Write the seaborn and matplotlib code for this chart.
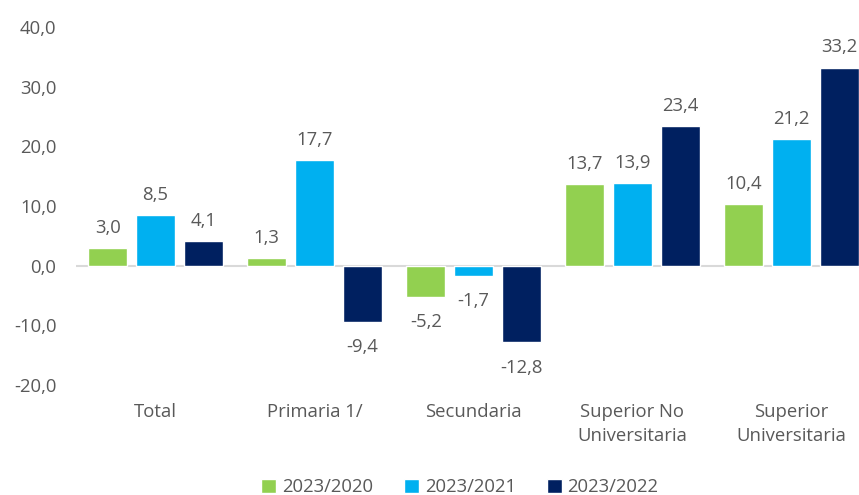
import matplotlib
matplotlib.use("Agg")
import matplotlib.pyplot as plt
import seaborn as sns
import pandas as pd

categories = ["Total", "Primaria 1/", "Secundaria", "Superior No\nUniversitaria", "Superior\nUniversitaria"]
series_names = ["2023/2020", "2023/2021", "2023/2022"]
v2020 = [3.0, 1.3, -5.2, 13.7, 10.4]
v2021 = [8.5, 17.7, -1.7, 13.9, 21.2]
v2022 = [4.1, -9.4, -12.8, 23.4, 33.2]
colors = ["#92D050", "#00B0F0", "#002060"]
yticks = [-20, -10, 0, 10, 20, 30, 40]

rows = []
for s, vals in zip(series_names, [v2020, v2021, v2022]):
    for c, v in zip(categories, vals):
        rows.append({"cat": c, "serie": s, "val": v})
df = pd.DataFrame(rows)

sns.set_style("white")
plt.rcParams["font.family"] = ["Open Sans", "DejaVu Sans"]
text_color = "#595959"
fs = 13.3

fig = plt.figure(figsize=(8.59, 4.95), dpi=100)
W, H = 859, 495
ax = fig.add_axes([76 / W, 1 - 385 / H, 1 - 76 / W, (385 - 27) / H])

sns.barplot(data=df, x="cat", y="val", hue="serie", order=categories,
            hue_order=series_names, palette=colors, width=0.9, gap=0.18,
            saturation=1, ax=ax, legend=True)

ax.set_ylim(-20, 40)
ax.set_xlim(-0.5, (W - 76) / 159 - 0.5)
ax.set_yticks(yticks)
ax.set_yticklabels([f"{t:.1f}".replace(".", ",") for t in yticks], fontsize=fs, color=text_color)
ax.tick_params(axis="y", length=0, pad=14)
ax.tick_params(axis="x", length=0, pad=13)
ax.set_xticks(range(len(categories)))
ax.set_xticklabels(categories, fontsize=fs, color=text_color, linespacing=1.4)
ax.set_xlabel("")
ax.set_ylabel("")
for sp in ax.spines.values():
    sp.set_visible(False)
ax.axhline(0, color="#D9D9D9", lw=1.5, zorder=0.5)

for cont in ax.containers:
    for bar in cont:
        v = bar.get_height()
        x = bar.get_x() + bar.get_width() / 2
        if v >= 0:
            ax.annotate(f"{v:.1f}".replace(".", ","), (x, v), xytext=(0, 8),
                        textcoords="offset points", ha="center", va="bottom",
                        fontsize=fs, color=text_color)
        else:
            ax.annotate(f"{v:.1f}".replace(".", ","), (x, v), xytext=(0, -12),
                        textcoords="offset points", ha="center", va="top",
                        fontsize=fs, color=text_color)

ax.legend(loc="center", bbox_to_anchor=(460 / W, 1 - 487 / H),
          bbox_transform=fig.transFigure, ncol=3, frameon=False,
          fontsize=fs, handlelength=0.8, handleheight=0.8,
          handletextpad=0.3, columnspacing=1.7, labelcolor=text_color)

fig.savefig("out.png", dpi=100)
